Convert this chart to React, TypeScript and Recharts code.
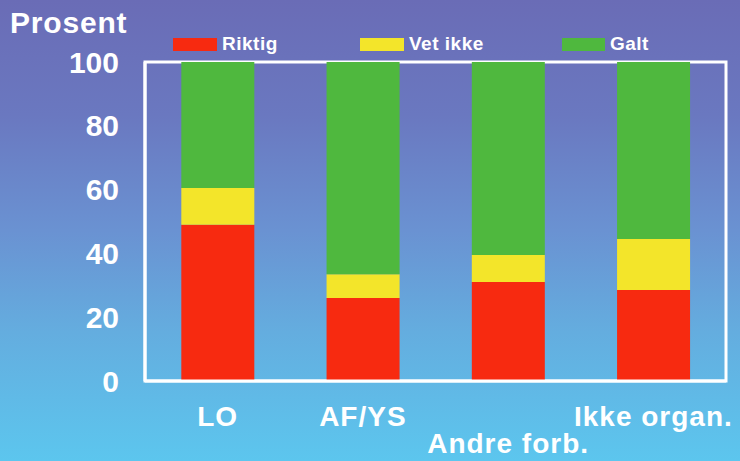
import React from "react";
import { BarChart, Bar, XAxis, YAxis, ReferenceArea, Legend } from "recharts";

const categories = ["LO", "AF/YS", "Andre forb.", "Ikke organ."];
const riktig = [49, 26, 31, 28.5];
const vetIkke = [11.5, 7.5, 8.5, 16];
const galt = [39.5, 66.5, 60.5, 55.5];
const yTicks = [0, 20, 40, 60, 80, 100];

const data = categories.map((c, i) => ({
  name: c,
  Riktig: riktig[i],
  "Vet ikke": vetIkke[i],
  Galt: galt[i],
}));

const RED = "#f72a10";
const YELLOW = "#f3e52a";
const GREEN = "#4fb83e";
const FONT = "'Liberation Sans', Arial, sans-serif";

const XTick = (props: any) => {
  const { x, y, payload, index } = props;
  const dy = index === 2 ? 64 : 37;
  return (
    <text
      x={x}
      y={y + dy}
      textAnchor="middle"
      fill="#fff"
      fontFamily={FONT}
      fontWeight="bold"
      fontSize={28}
      letterSpacing={1}
    >
      {payload.value}
    </text>
  );
};

const LegendContent = () => {
  const items = [
    { label: "Riktig", color: RED, x: 173, w: 44 },
    { label: "Vet ikke", color: YELLOW, x: 360, w: 44 },
    { label: "Galt", color: GREEN, x: 562, w: 43 },
  ];
  return (
    <div style={{ position: "relative", width: 740, height: 0 }}>
      {items.map((it) => (
        <div key={it.label}>
          <div
            style={{
              position: "absolute",
              left: it.x,
              top: 38,
              width: it.w,
              height: 13,
              background: it.color,
            }}
          />
          <div
            style={{
              position: "absolute",
              left: it.x + it.w + 5,
              top: 33,
              color: "#fff",
              fontFamily: FONT,
              fontWeight: "bold",
              fontSize: 19,
              lineHeight: "22px",
              letterSpacing: 0.5,
              whiteSpace: "nowrap",
            }}
          >
            {it.label}
          </div>
        </div>
      ))}
    </div>
  );
};

export default function App() {
  return (
    <div
      style={{
        position: "absolute",
        left: 0,
        top: 0,
        width: 740,
        height: 461,
        overflow: "hidden",
        background:
          "linear-gradient(to bottom, #6a6cb6 0%, #6a78c0 25%, #6a92d2 50%, #64addf 72%, #5cc6ee 100%)",
      }}
    >
      <div
        style={{
          position: "absolute",
          left: 10,
          top: 5,
          color: "#fff",
          fontFamily: FONT,
          fontWeight: "bold",
          fontSize: 30,
          lineHeight: "36px",
          letterSpacing: 0.8,
        }}
      >
        Prosent
      </div>
      <BarChart
        width={740}
        height={461}
        data={data}
        margin={{ top: 62, right: 14, bottom: 0, left: 0 }}
        barCategoryGap="25%"
      >
        <XAxis
          dataKey="name"
          height={80}
          axisLine={{ stroke: "#fff", strokeWidth: 3 }}
          tickLine={false}
          tick={<XTick />}
          interval={0}
        />
        <YAxis
          width={145}
          domain={[0, 100]}
          ticks={yTicks}
          axisLine={{ stroke: "#fff", strokeWidth: 3 }}
          tickLine={false}
          tickSize={0}
          tickMargin={26}
          tick={{
            fill: "#fff",
            fontFamily: FONT,
            fontWeight: "bold",
            fontSize: 30,
          }}
        />
        <ReferenceArea
          y1={0}
          y2={100}
          fill="none"
          stroke="#fff"
          strokeWidth={3}
          ifOverflow="visible"
        />
        <Legend
          verticalAlign="top"
          align="left"
          wrapperStyle={{ top: 0, left: 0, height: 0 }}
          content={<LegendContent />}
        />
        <Bar dataKey="Riktig" stackId="a" fill={RED} isAnimationActive={false} />
        <Bar dataKey="Vet ikke" stackId="a" fill={YELLOW} isAnimationActive={false} />
        <Bar dataKey="Galt" stackId="a" fill={GREEN} isAnimationActive={false} />
      </BarChart>
    </div>
  );
}
